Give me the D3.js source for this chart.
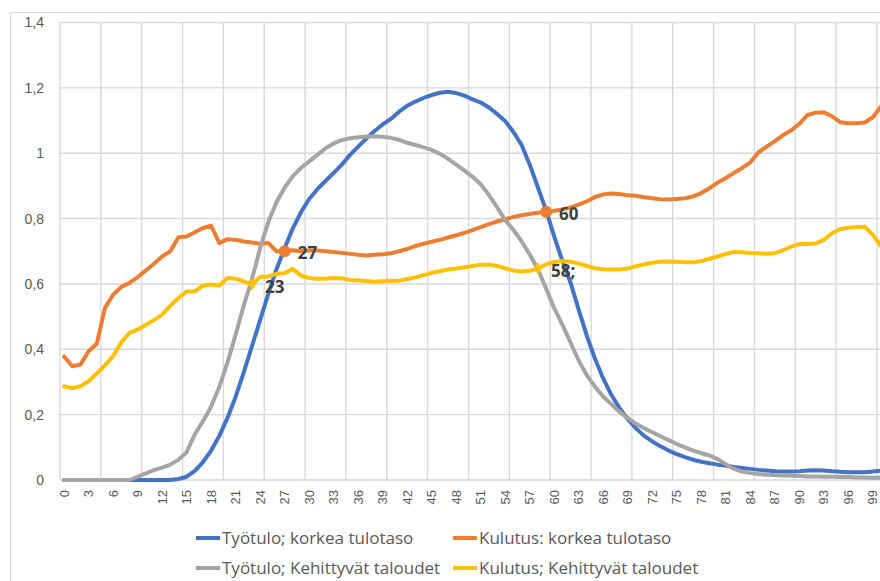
<!DOCTYPE html>
<html>
<head>
<meta charset="utf-8">
<script src="https://cdn.jsdelivr.net/npm/d3@7"></script>
<style>
  body { margin: 0; background: #fff; }
  svg { display: block; font-family: "Open Sans", sans-serif; }
  .axis path, .axis line { display: none; }
  .axis text { fill: #595959; }
  .line { fill: none; stroke-width: 4; stroke-linejoin: round; stroke-linecap: round; }
  .legend text { fill: #595959; font-size: 17px; }
  .marklabel { fill: #404040; font-size: 17px; font-weight: bold; }
</style>
</head>
<body>
<script>
// Ikä (0..100) ja neljä sarjaa, luettu kuvasta

var ages = d3.range(0, 101);

var tyotuloKorkea = [
  0, 0, 0, 0, 0, 0, 0, 0, 0, 0, 0, 0, 0, 0,
  0.003, 0.01, 0.028, 0.055, 0.09, 0.135, 0.19, 0.255, 0.33, 0.41,
  0.49, 0.57, 0.645, 0.71, 0.77, 0.82, 0.86, 0.89, 0.915, 0.94,
  0.965, 0.995, 1.02, 1.045, 1.068, 1.088, 1.105, 1.127, 1.145, 1.158,
  1.169, 1.178, 1.185, 1.188, 1.184, 1.176, 1.165, 1.155, 1.14, 1.12,
  1.098, 1.065, 1.025, 0.965, 0.895, 0.825, 0.745, 0.67, 0.603, 0.52,
  0.44, 0.37, 0.31, 0.26, 0.22, 0.186, 0.158, 0.135, 0.118, 0.103,
  0.09, 0.079, 0.07, 0.062, 0.056, 0.051, 0.047, 0.044, 0.04, 0.037,
  0.034, 0.031, 0.029, 0.027, 0.026, 0.026, 0.027, 0.029, 0.03, 0.029,
  0.027, 0.025, 0.024, 0.024, 0.024, 0.026, 0.029
];

var kulutusKorkea = [
  0.378, 0.348, 0.353, 0.394, 0.417, 0.526, 0.567, 0.591, 0.603, 0.621,
  0.641, 0.662, 0.684, 0.700, 0.743, 0.745, 0.758, 0.771, 0.778, 0.725,
  0.737, 0.735, 0.730, 0.727, 0.722, 0.725, 0.700, 0.700, 0.703, 0.700,
  0.702, 0.702, 0.700, 0.698, 0.695, 0.692, 0.689, 0.687, 0.689, 0.691,
  0.694, 0.700, 0.707, 0.716, 0.723, 0.729, 0.735, 0.742, 0.749, 0.756,
  0.765, 0.774, 0.783, 0.791, 0.798, 0.805, 0.810, 0.814, 0.818, 0.821,
  0.824, 0.828, 0.834, 0.843, 0.853, 0.866, 0.874, 0.877, 0.875, 0.871,
  0.870, 0.865, 0.862, 0.859, 0.858, 0.860, 0.862, 0.868, 0.878, 0.893,
  0.910, 0.924, 0.940, 0.955, 0.972, 1.003, 1.020, 1.037, 1.055, 1.070,
  1.090, 1.117, 1.124, 1.125, 1.113, 1.095, 1.092, 1.092, 1.094, 1.110,
  1.143
];

var tyotuloKehittyvat = [
  0, 0, 0, 0, 0, 0, 0, 0, 0,
  0.01, 0.02, 0.03, 0.038, 0.047, 0.062, 0.085, 0.14, 0.18, 0.225,
  0.285, 0.36, 0.445, 0.535, 0.615, 0.71, 0.79, 0.85, 0.895, 0.93,
  0.955, 0.975, 0.995, 1.015, 1.03, 1.04, 1.046, 1.049, 1.051, 1.052,
  1.05, 1.047, 1.041, 1.032, 1.025, 1.018, 1.01, 0.998, 0.983, 0.965,
  0.947, 0.928, 0.905, 0.872, 0.835, 0.795, 0.765, 0.73, 0.69, 0.645,
  0.585, 0.525, 0.475, 0.42, 0.365, 0.32, 0.285, 0.255, 0.232, 0.208,
  0.19, 0.172, 0.158, 0.146, 0.134, 0.122, 0.11, 0.1, 0.09, 0.082,
  0.075, 0.064, 0.048, 0.034, 0.026, 0.021, 0.018, 0.016, 0.015, 0.014,
  0.013, 0.012, 0.011, 0.011, 0.01, 0.01, 0.009, 0.009, 0.008, 0.008,
  0.007, 0.007
];

var kulutusKehittyvat = [
  0.287, 0.281, 0.287, 0.302, 0.326, 0.351, 0.379, 0.421, 0.450, 0.460,
  0.475, 0.489, 0.506, 0.533, 0.557, 0.577, 0.577, 0.595, 0.598, 0.595,
  0.618, 0.616, 0.608, 0.598, 0.621, 0.623, 0.631, 0.633, 0.646, 0.625,
  0.618, 0.616, 0.616, 0.618, 0.617, 0.612, 0.611, 0.609, 0.607, 0.608,
  0.609, 0.610, 0.615, 0.620, 0.627, 0.634, 0.639, 0.644, 0.647, 0.651,
  0.655, 0.659, 0.659, 0.655, 0.648, 0.641, 0.638, 0.640, 0.647, 0.660,
  0.667, 0.670, 0.668, 0.662, 0.655, 0.648, 0.645, 0.644, 0.644, 0.647,
  0.654, 0.660, 0.665, 0.668, 0.669, 0.668, 0.666, 0.666, 0.670, 0.677,
  0.684, 0.692, 0.698, 0.697, 0.695, 0.694, 0.692, 0.694, 0.703, 0.714,
  0.722, 0.722, 0.724, 0.735, 0.755, 0.768, 0.772, 0.774, 0.775, 0.750,
  0.715
];

var seriesNames = ["Työtulo; korkea tulotaso", "Kulutus: korkea tulotaso",
                   "Työtulo; Kehittyvät taloudet", "Kulutus; Kehittyvät taloudet"];
var seriesColors = ["#4472c4", "#ed7d31", "#a5a5a5", "#ffc000"];

var xTickLabels = d3.range(0, 100, 3);
var yTicks = [0, 0.2, 0.4, 0.6, 0.8, 1, 1.2, 1.4];

// leikkauskohdat: sarja (indeksi), ikä, teksti
var markSeries = [1, 1, 3, 3];
var markAges = [27, 59, 23, 58];
var markTexts = ["27", "60", "23", "58;"];


// ----- Sivun mitat -----
var W = 880, H = 581;
var plotLeft = 60, plotTop = 22.5, plotBottom = 480;
var catW = 8.17;

var svg = d3.select("body").append("svg")
  .attr("width", W)
  .attr("height", H);

// chart border (continues past the visible picture)
svg.append("rect")
  .attr("x", 10.5).attr("y", 12.5)
  .attr("width", 900).attr("height", 600)
  .attr("fill", "none")
  .attr("stroke", "#d9d9d9");

// Scales
var x = d3.scaleBand()
  .domain(ages)
  .range([plotLeft, plotLeft + catW * ages.length])
  .paddingInner(0).paddingOuter(0);

var y = d3.scaleLinear()
  .domain([0, 1.4])
  .range([plotBottom, plotTop]);

var cx = function(a) { return x(a) + x.bandwidth() / 2; };

// Gridlines
var grid = svg.append("g").attr("class", "grid");

grid.selectAll("line.hgrid")
  .data(yTicks)
  .enter().append("line")
  .attr("class", "hgrid")
  .attr("x1", plotLeft).attr("x2", plotLeft + catW * ages.length)
  .attr("y1", function(d) { return y(d); })
  .attr("y2", function(d) { return y(d); })
  .attr("stroke", "#d9d9d9")
  .attr("stroke-width", 1.4);

grid.selectAll("line.vgrid")
  .data(ages.filter(function(a) { return a % 5 == 0; }))
  .enter().append("line")
  .attr("class", "vgrid")
  .attr("x1", function(d) { return x(d); })
  .attr("x2", function(d) { return x(d); })
  .attr("y1", y(1.4)).attr("y2", y(0))
  .attr("stroke", "#d9d9d9")
  .attr("stroke-width", 1.4);

// Axes
var yAxis = d3.axisLeft(y)
  .tickValues(yTicks)
  .tickSize(0)
  .tickPadding(0)
  .tickFormat(function(d) { return String(d).replace(".", ","); });

svg.append("g")
  .attr("class", "y axis")
  .attr("transform", "translate(44,0)")
  .call(yAxis)
  .selectAll("text")
  .style("font-size", "14px");

var xAxis = d3.axisBottom(x)
  .tickValues(xTickLabels)
  .tickSize(0);

svg.append("g")
  .attr("class", "x axis")
  .attr("transform", "translate(0," + plotBottom + ")")
  .call(xAxis)
  .selectAll("text")
  .style("font-size", "13px")
  .attr("text-anchor", "end")
  .attr("transform", "rotate(-90)")
  .attr("x", -10)
  .attr("y", 0)
  .attr("dy", "0.35em");

// Lines
var allSeries = [tyotuloKorkea, kulutusKorkea, tyotuloKehittyvat, kulutusKehittyvat];

var valueline = d3.line()
  .x(function(d, i) { return cx(ages[i]); })
  .y(function(d) { return y(d); });

svg.selectAll("path.line")
  .data(allSeries)
  .enter().append("path")
  .attr("class", "line")
  .attr("stroke", function(d, i) { return seriesColors[i]; })
  .attr("d", function(d) { return valueline(d); });

// Markers and their labels
markAges.forEach(function(a, k) {
  var s = markSeries[k];
  var px = cx(a), py = y(allSeries[s][a]);
  if (s == 1) {
    svg.append("circle")
      .attr("cx", px).attr("cy", py).attr("r", 6)
      .attr("fill", seriesColors[s]);
  } else {
    svg.append("path")
      .attr("transform", "translate(" + px + "," + py + ")")
      .attr("d", d3.symbol().type(d3.symbolDiamond).size(45))
      .attr("fill", seriesColors[s]);
  }
  svg.append("text")
    .attr("class", "marklabel")
    .attr("x", px + 13)
    .attr("y", py + 2)
    .attr("dy", "0.35em")
    .text(markTexts[k]);
});

// Legend
var legendX = [196, 453];
var legendY = [538, 568];

var legend = svg.append("g").attr("class", "legend");

seriesNames.forEach(function(name, i) {
  var lx = legendX[i % 2], ly = legendY[Math.floor(i / 2)];
  legend.append("line")
    .attr("x1", lx).attr("x2", lx + 24)
    .attr("y1", ly).attr("y2", ly)
    .attr("stroke", seriesColors[i])
    .attr("stroke-width", 4);
  legend.append("text")
    .attr("x", lx + 26)
    .attr("y", ly)
    .attr("dy", "0.35em")
    .text(name);
});
</script>
</body>
</html>
